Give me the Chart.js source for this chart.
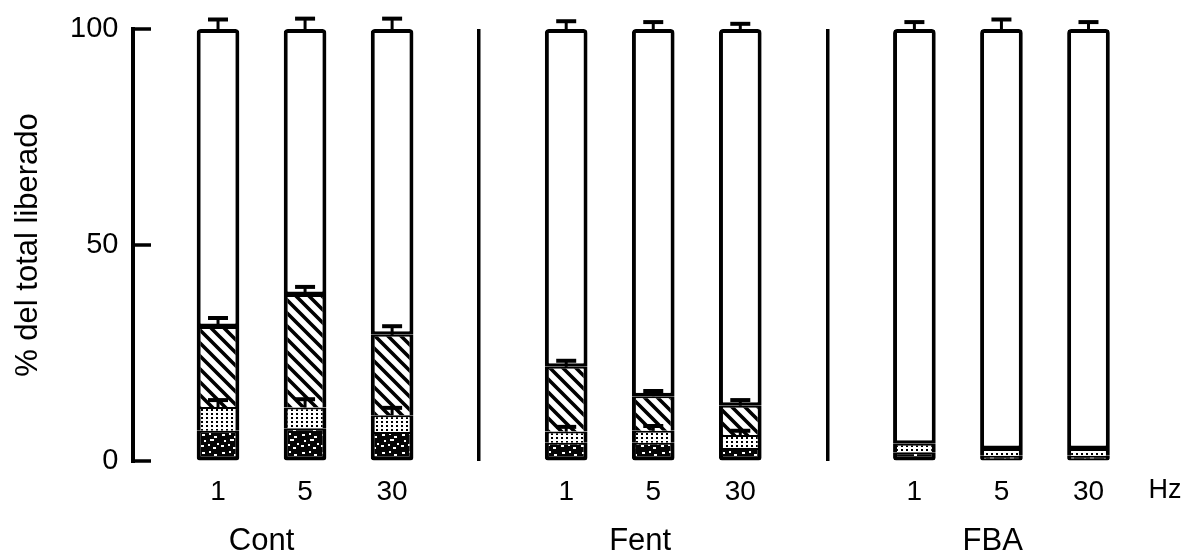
<!DOCTYPE html>
<html>
<head>
<meta charset="utf-8">
<script src="https://cdn.jsdelivr.net/npm/chart.js@4.4.1/dist/chart.umd.min.js"></script>
<style>
  html, body { margin: 0; padding: 0; background: #fff; }
  #wrap { width: 1181px; height: 557px; position: relative; }
</style>
</head>
<body>
<div id="wrap"><canvas id="c" width="1181" height="557"></canvas></div>
<script>
// ---- data ----
const categories = ['1', '5', '30', '', '1', '5', '30', '', '1', '5', '30'];
const groupNames = ['Cont', 'Fent', 'FBA'];
const yTicks = [0, 50, 100];
// stacked segment heights, % of total released
const denseVals  = [7.0, 7.6, 6.7, null, 4.2, 4.2, 3.0, null, 2.0, 1.2, 1.2];
const dottedVals = [5.5, 4.8, 3.9, null, 2.6, 2.8, 3.0, null, 2.0, 1.6, 1.6];
const hatchVals  = [18.5, 26.0, 18.6, null, 15.0, 8.0, 6.8, null, null, null, null];
const whiteVals  = [69.0, 61.6, 70.8, null, 78.2, 85.0, 87.2, null, 96.0, 97.2, 97.2];
// upward error bars (SEM) at the top of each segment
const dottedErr  = [1.6, 1.9, 1.7, null, 1.1, 1.1, 1.0, null, null, null, null];
const hatchErr   = [2.1, 1.9, 2.0, null, 1.4, 1.2, 1.3, null, null, null, null];
const whiteErr   = [2.2, 2.4, 2.4, null, 1.8, 1.6, 1.2, null, 1.6, 2.2, 1.6];

// ---- patterns ----
function mkCanvas(w, h) { const c = document.createElement('canvas'); c.width = w; c.height = h; return c; }
const ctx0 = document.getElementById('c').getContext('2d');
function hatchPattern() {
  const s = 13, c = mkCanvas(s, s), g = c.getContext('2d');
  g.fillStyle = '#fff'; g.fillRect(0, 0, s, s);
  g.strokeStyle = '#000'; g.lineWidth = 3.6; g.lineCap = 'square';
  g.beginPath();
  g.moveTo(-s, 0); g.lineTo(s, 2 * s);
  g.moveTo(0, 0); g.lineTo(s, s);
  g.moveTo(0, -s); g.lineTo(2 * s, s);
  g.stroke();
  return ctx0.createPattern(c, 'repeat');
}
function dotPattern() {
  const c = mkCanvas(5, 4), g = c.getContext('2d');
  g.fillStyle = '#fff'; g.fillRect(0, 0, 5, 4);
  g.fillStyle = '#000'; g.fillRect(1, 1, 2, 2);
  return ctx0.createPattern(c, 'repeat');
}
function densePattern() {
  const c = mkCanvas(20, 18), g = c.getContext('2d');
  g.fillStyle = '#050505'; g.fillRect(0, 0, 20, 18);
  g.fillStyle = '#fff';
  const specks = [[2,2,3,2],[9,1,2,2],[14,4,3,2],[4,8,2,2],[10,7,4,2],[17,11,2,2],[1,13,3,2],[8,12,2,2],[13,15,3,2]];
  specks.forEach(([x, y, w, h]) => g.fillRect(x, y, w, h));
  return ctx0.createPattern(c, 'repeat');
}

const BW = 4;
const errMap = { 1: dottedErr, 2: hatchErr, 3: whiteErr };

const yAxisPlugin = {
  id: 'yAxisInward',
  afterDraw(chart) {
    const { ctx, chartArea, scales: { y } } = chart;
    const ax = chartArea.left - 41.5;
    ctx.save();
    ctx.strokeStyle = '#000';
    ctx.lineWidth = 4;
    ctx.lineCap = 'butt';
    ctx.beginPath();
    ctx.moveTo(ax, y.getPixelForValue(100) - 2);
    ctx.lineTo(ax, y.getPixelForValue(0) + 2);
    ctx.stroke();
    ctx.lineWidth = 3.5;
    yTicks.forEach(v => {
      const py = y.getPixelForValue(v);
      ctx.beginPath(); ctx.moveTo(ax - 2, py); ctx.lineTo(ax + 18, py); ctx.stroke();
    });
    ctx.restore();
  }
};

const errorBarPlugin = {
  id: 'errorBars',
  afterDatasetsDraw(chart) {
    const { ctx, scales: { y } } = chart;
    ctx.save();
    ctx.strokeStyle = '#000';
    Object.keys(errMap).forEach(di => {
      const errs = errMap[di];
      const meta = chart.getDatasetMeta(+di);
      meta.data.forEach((el, i) => {
        const e = errs[i];
        if (e == null || chart.data.datasets[di].data[i] == null) return;
        const topVal = y.getValueForPixel(el.y);
        const py = y.getPixelForValue(topVal + e);
        ctx.lineWidth = 3;
        ctx.beginPath(); ctx.moveTo(el.x, el.y); ctx.lineTo(el.x, py); ctx.stroke();
        ctx.lineWidth = 4;
        ctx.beginPath(); ctx.moveTo(el.x - 10, py); ctx.lineTo(el.x + 10, py); ctx.stroke();
      });
    });
    ctx.restore();
  }
};

const labelPlugin = {
  id: 'groupLabels',
  afterDraw(chart) {
    const { ctx, chartArea, scales: { x } } = chart;
    const o = chart.options.plugins.groupLabels;
    ctx.save();
    ctx.fillStyle = '#000';
    ctx.textBaseline = 'middle';
    ctx.textAlign = 'center';
    ctx.font = o.font;
    groupNames.forEach((name, g) => {
      const pos = o.positions[g];
      const i0 = Math.floor(pos), f = pos - i0;
      const px = x.getPixelForValue(i0) + f * (x.getPixelForValue(i0 + 1) - x.getPixelForValue(i0));
      ctx.fillText(name, px, chartArea.bottom + o.dy);
    });
    ctx.textAlign = 'left';
    ctx.font = o.unitFont;
    ctx.fillText('Hz', x.getPixelForValue(categories.length - 1) + o.unitDx, chartArea.bottom + o.unitDy);
    ctx.restore();
  }
};

const FONT = "'Liberation Sans', Arial, sans-serif";

new Chart(document.getElementById('c'), {
  type: 'bar',
  data: {
    labels: categories,
    datasets: [
      { label: 'dense', data: denseVals, backgroundColor: densePattern(), borderColor: '#000',
        borderWidth: { top: 2, left: BW, right: BW, bottom: BW }, borderSkipped: false,
        borderRadius: { bottomLeft: 3, bottomRight: 3 } },
      { label: 'dotted', data: dottedVals, backgroundColor: dotPattern(), borderColor: '#000',
        borderWidth: { top: 2, left: BW, right: BW, bottom: 0 }, borderSkipped: false },
      { label: 'hatched', data: hatchVals, backgroundColor: hatchPattern(), borderColor: '#000',
        borderWidth: { top: 2, left: BW, right: BW, bottom: 0 }, borderSkipped: false },
      { label: 'white', data: whiteVals, backgroundColor: '#fff', borderColor: '#000',
        borderWidth: { top: BW, left: BW, right: BW, bottom: 3.5 }, borderSkipped: false,
        borderRadius: { topLeft: 4, topRight: 4 } }
    ]
  },
  options: {
    responsive: false,
    animation: false,
    devicePixelRatio: 1,
    layout: { padding: { top: 29, right: 49, bottom: 0, left: 0 } },
    datasets: { bar: { categoryPercentage: 1, barPercentage: 0.49 } },
    plugins: {
      legend: { display: false },
      tooltip: { enabled: false },
      groupLabels: { positions: [0.5, 4.85, 8.9], dy: 80, font: `31px ${FONT}`,
                     unitFont: `27px ${FONT}`, unitDx: 60, unitDy: 30 }
    },
    scales: {
      x: {
        stacked: true,
        offset: true,
        border: { display: false },
        grid: {
          offset: false,
          drawTicks: false,
          lineWidth: 3.5,
          color: c => (categories[c.index] === '' ? '#000' : 'rgba(0,0,0,0)')
        },
        ticks: { color: '#000', font: { family: FONT, size: 28 }, padding: 14, maxRotation: 0, autoSkip: false },
        afterFit: s => { s.height = 96; }
      },
      y: {
        stacked: true,
        min: 0, max: 100,
        border: { display: false },
        grid: { display: true, drawOnChartArea: false, drawTicks: true, tickLength: 56,
                color: 'rgba(0,0,0,0)' },
        ticks: { stepSize: 50, color: '#000', font: { family: FONT, size: 29 }, padding: 0 },
        title: { display: true, text: '% del total liberado', color: '#000',
                 font: { family: FONT, size: 31 }, padding: { top: 10, bottom: 0 } },
        afterFit: s => { s.width = 174.5; }
      }
    }
  },
  plugins: [yAxisPlugin, errorBarPlugin, labelPlugin]
});
</script>
</body>
</html>
